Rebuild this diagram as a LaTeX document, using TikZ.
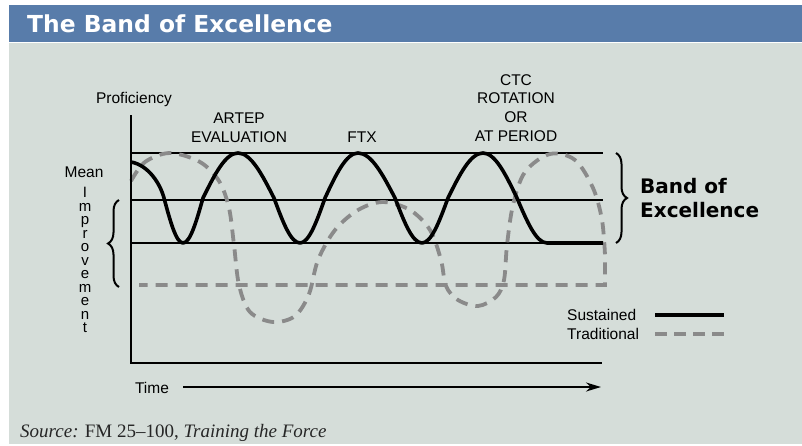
\documentclass[tikz,border=0pt]{standalone}
\usepackage{fontspec}
\setmainfont{Liberation Sans}
\newfontfamily\titlefam{DejaVu Sans}
\newfontfamily\srcfam[Ligatures=TeX]{Liberation Serif}
\usetikzlibrary{arrows.meta,decorations.pathreplacing}
\definecolor{titleblue}{RGB}{88,124,170}
\definecolor{panelgray}{RGB}{213,221,217}
\definecolor{tradgray}{RGB}{138,138,138}
\newcommand\lblfont{\fontsize{15.5}{18.7}\selectfont}
\begin{document}
\begin{tikzpicture}[x=1pt,y=-1pt,
  every node/.style={inner sep=0pt},
  lbl/.style={font=\lblfont, align=center},
  axis/.style={line width=2pt, line cap=butt},
  band/.style={line width=1.8pt},
  sust/.style={line width=3.6pt, line join=round},
  trad/.style={line width=3.8pt, draw=tradgray, dash pattern=on 12pt off 8pt},
  bracestyle/.style={line width=2pt, decorate, decoration={brace, amplitude=11pt}}]
\useasboundingbox (0,0) rectangle (802,445);
\fill[white] (0,0) rectangle (802,445);
\fill[titleblue] (9,5) rectangle (802,42);
\fill[panelgray] (9,43) rectangle (802,444);
\node[anchor=base west, text=white, font=\titlefam\bfseries\fontsize{23.4}{28}\selectfont] (title) at (27,32) {The Band of Excellence};

% band lines
\draw[band] (131,153) -- (603,153);
\draw[band] (131,200) -- (603,200);
\draw[band] (131,243) -- (603,243);

% traditional curve
\draw[trad] plot[smooth, tension=0.55] coordinates {
 (131,181) (145,162) (170,153) (200,162) (219,181) (229,208) (234,245) (239,285)
 (250,312) (273,322) (295,316) (309,294) (318,260) (335,230) (358,210) (383,202)
 (410,210) (430,230) (441,260) (446,286) (458,300) (478,306) (496,297) (504,280)
 (507,245) (513,205) (525,172) (550,154) (575,160) (593,188) (602,220) (605,255)}
 -- (605,285) -- (139,285);

% sustained curve
\draw[sust] (131,162) .. controls (148,165) and (160,183) .. (164,198)
  sin (183,243) cos (203,198) sin (238,153) cos (274,198)
  sin (300,243) cos (325,198) sin (358,153) cos (395,198)
  sin (422,243) cos (448,198) sin (483,153) cos (517,198)
  sin (547,243) -- (603,243);

% axes
\draw[axis] (131,115) -- (131,363) -- (602,363);

% labels
\node[lbl] (prof) at (134,99) {Proficiency};
\node[lbl] (artep) at (239,127.5) {ARTEP\\EVALUATION};
\node[lbl] (ftx) at (362,137) {FTX};
\node[lbl] (ctc) at (516,108) {CTC\\ROTATION\\OR\\AT PERIOD};
\node[lbl] (mean) at (84,172) {Mean};
\node[font=\fontsize{15}{13.5}\selectfont, align=center] (impr) at (85,260)
  {I\\m\\p\\r\\o\\v\\e\\m\\e\\n\\t};

% braces
\draw[bracestyle] (616,153) -- (616,243);
\draw[bracestyle] (119,287) -- (119,200);
\node[anchor=west, align=left, font=\titlefam\bfseries\fontsize{20}{24}\selectfont] (band) at (640,198) {Band of\\Excellence};

% time arrow
\node[lbl] (time) at (152,388) {Time};
\coordinate (tstart) at (183,387);
\coordinate (tend) at (601,387);
\draw[line width=2pt, -{Stealth[length=15pt,width=9pt]}] (tstart) -- (tend);

% legend
\node[lbl, anchor=west] (lsus) at (567,315) {Sustained};
\node[lbl, anchor=west] (ltrad) at (567,334) {Traditional};
\coordinate (s1) at (655,315); \coordinate (s2) at (724,315);
\coordinate (t1) at (655,334); \coordinate (t2) at (724,334);
\draw[line width=3.6pt] (s1) -- (s2);
\draw[trad, dash pattern=on 12pt off 7pt] (t1) -- (t2);

% source
\node[anchor=base west, font=\srcfam\fontsize{19}{22}\selectfont, text=black!85] (src) at (20,437)
  {\textit{Source:} FM 25–100, \textit{Training the Force}};
\end{tikzpicture}
\end{document}
